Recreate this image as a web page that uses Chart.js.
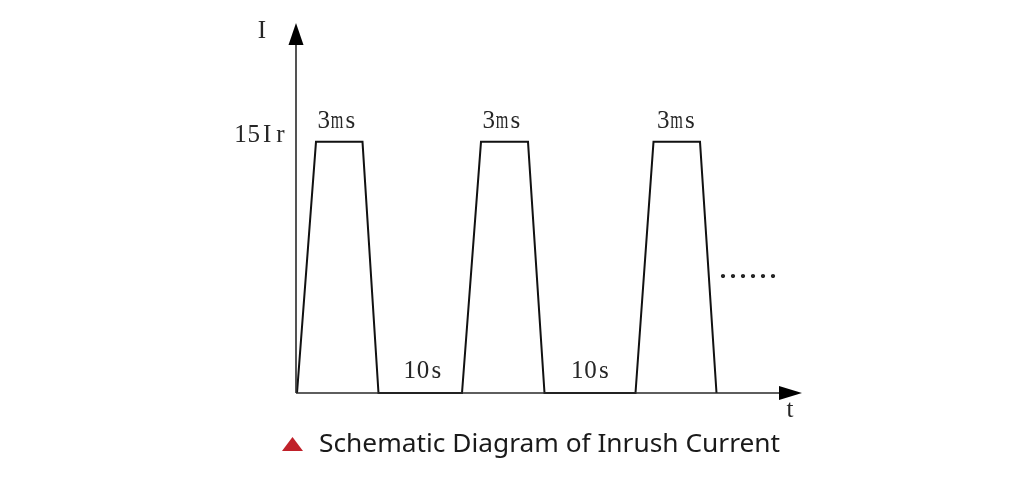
<!DOCTYPE html>
<html>
<head>
<meta charset="utf-8">
<script src="https://cdn.jsdelivr.net/npm/chart.js@4/dist/chart.umd.min.js"></script>
<style>
  html, body { margin: 0; padding: 0; background: #ffffff; }
  #wrap { width: 1029px; height: 482px; position: relative; }
</style>
</head>
<body>
<div id="wrap"><canvas id="c" width="1029" height="482"></canvas></div>
<script>
// ---- data (schematic units) ----
const timePoints    = [0, 19, 65.5, 81.5, 165, 184, 231, 247.5, 338.5, 356.5, 403, 419.5];
const currentPoints = [0, 15, 15,   0,    0,   15,  15,  0,     0,     15,    15,  0];
const peakCurrent   = 15;
const peakLabel     = '15Ir';
const pulseLabels   = ['3ms', '3ms', '3ms'];
const gapLabels     = ['10s', '10s'];
const yAxisLabel    = 'I';
const xAxisLabel    = 't';
const moreLabel     = '......';
const captionText   = 'Schematic Diagram of Inrush Current';

// ---- layout (not data) ----
const X_MAX = 505, Y_MAX = 22.1;
const pulseLabelPos = [{x: 40, y: 16.2}, {x: 205, y: 16.2}, {x: 379.5, y: 16.2}];
const gapLabelPos   = [{x: 126, y: 1.3}, {x: 293.5, y: 1.3}];

const pts = timePoints.map((t, i) => ({x: t, y: currentPoints[i]}));

const decor = {
  id: 'decor',
  afterDatasetsDraw(chart) {
    const ctx = chart.ctx;
    const xs = chart.scales.x, ys = chart.scales.y;
    const x0 = xs.getPixelForValue(0) - 1, y0 = ys.getPixelForValue(0);
    const xEnd = xs.getPixelForValue(X_MAX), yEnd = ys.getPixelForValue(Y_MAX);
    ctx.save();
    // axes
    ctx.strokeStyle = '#2a2a2a';
    ctx.lineWidth = 1.6;
    ctx.beginPath();
    ctx.moveTo(x0, y0); ctx.lineTo(xEnd - 10, y0);
    ctx.moveTo(x0, y0); ctx.lineTo(x0, yEnd + 10);
    ctx.stroke();
    ctx.fillStyle = '#000';
    ctx.beginPath();
    ctx.moveTo(xEnd, y0); ctx.lineTo(xEnd - 23, y0 - 7); ctx.lineTo(xEnd - 23, y0 + 7); ctx.closePath();
    ctx.fill();
    ctx.beginPath();
    ctx.moveTo(x0, yEnd); ctx.lineTo(x0 - 7.5, yEnd + 22); ctx.lineTo(x0 + 7.5, yEnd + 22); ctx.closePath();
    ctx.fill();

    // serif labels laid out in fixed-width cells (half-width CJK serif look)
    function label(txt, px, py, align, cell, font) {
      cell = cell || 13.3;
      font = font || '25px "Liberation Serif"';
      const w = cell * txt.length;
      let left = px - w / 2;
      if (align === 'right') left = px - w;
      if (align === 'left') left = px;
      ctx.save();
      ctx.font = font;
      ctx.fillStyle = '#262626';
      ctx.textAlign = 'center';
      ctx.textBaseline = 'middle';
      for (let i = 0; i < txt.length; i++) {
        const gw = ctx.measureText(txt[i]).width;
        const sx = Math.min(1, (cell * 0.95) / gw);
        ctx.save();
        ctx.translate(left + cell * (i + 0.5), py);
        ctx.scale(sx, 1);
        ctx.fillText(txt[i], 0, 0);
        ctx.restore();
      }
      ctx.restore();
    }
    label(yAxisLabel, x0 - 34, yEnd + 8);
    label(xAxisLabel, xEnd - 12, y0 + 17);
    label(peakLabel, x0 - 9, ys.getPixelForValue(peakCurrent) - 6, 'right');
    pulseLabels.forEach((t, i) => label(t, xs.getPixelForValue(pulseLabelPos[i].x), ys.getPixelForValue(pulseLabelPos[i].y)));
    gapLabels.forEach((t, i) => label(t, xs.getPixelForValue(gapLabelPos[i].x), ys.getPixelForValue(gapLabelPos[i].y)));
    // continuation dots
    label(moreLabel, xs.getPixelForValue(421), ys.getPixelForValue(7.3), 'left', 10, 'bold 26px "Liberation Serif"');

    // caption
    const cy = 451;
    ctx.fillStyle = '#c0212a';
    ctx.beginPath();
    ctx.moveTo(292.5, cy - 14); ctx.lineTo(303, cy); ctx.lineTo(282, cy); ctx.closePath();
    ctx.fill();
    ctx.fillStyle = '#1a1a1a';
    ctx.font = '26.3px "Noto Sans"';
    ctx.textAlign = 'left';
    ctx.textBaseline = 'alphabetic';
    ctx.fillText(captionText, 319, 452);
    ctx.restore();
  }
};

new Chart(document.getElementById('c'), {
  type: 'line',
  data: {
    datasets: [{
      data: pts,
      borderColor: '#111',
      borderWidth: 2,
      pointRadius: 0,
      tension: 0,
      fill: false,
      clip: false
    }]
  },
  options: {
    responsive: false,
    devicePixelRatio: 1,
    animation: false,
    layout: { padding: { left: 297, right: 227, top: 23, bottom: 89 } },
    plugins: { legend: { display: false }, tooltip: { enabled: false } },
    scales: {
      x: { type: 'linear', min: 0, max: X_MAX, display: false },
      y: { type: 'linear', min: 0, max: Y_MAX, display: false }
    }
  },
  plugins: [decor]
});
</script>
</body>
</html>
